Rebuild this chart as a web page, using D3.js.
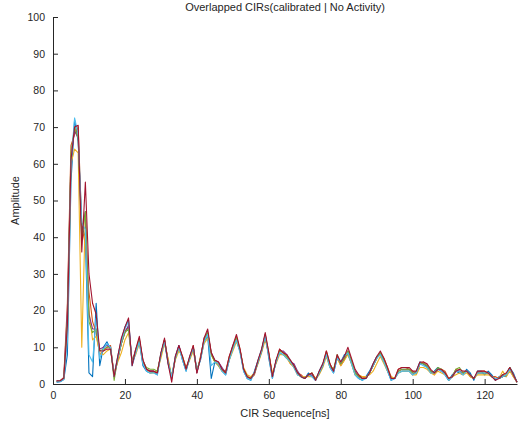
<!DOCTYPE html>
<html>
<head>
<meta charset="utf-8">
<script src="https://cdn.jsdelivr.net/npm/d3@7"></script>
<style>
  body { margin: 0; background: #fff; }
  text { font-family: "Liberation Sans", Arial, sans-serif; fill: #262626; }
</style>
</head>
<body>
<div id="chart"></div>
<script>
// CIR amplitude traces, one value per ns sample (t = 1..129)
const trBlue = [0.5,0.6,1.2,8,55,72,66,43,40,3, 2,22,5,10,11.5,9.5,2.5,7.5,12,15.5,
  17.5,5,8.5,11.5,5,3.5,3,3.2,2.5,8.5, 11.5,5.5,2,7.5,10.5,6.5,3.5,7.5,10,4,
  6.5,11.5,13,1.5,6,5,3.5,2.5,6.5,9.5, 12,9,3.5,1.5,1,3.5,6.5,9.5,13.5,7,
  1.5,6.5,8.5,8,7,6.5,4.5,2.5,2,1.5, 3,2,1,3.5,5.5,8,4.5,3,7,6,
  8,8,5.5,2.5,1.5,1,2,3.5,5.5,7.5, 8,6,3.5,1,1.5,3,3.5,3.5,3.5,2.5,
  3.5,6,5.5,4.5,3,3.5,4.5,3.5,2.5,1, 2.5,3.5,3,2.5,4,3,1,3.5,3.5,2.5,
  3.5,2.5,1,2,2.5,2,4.5,3,0.5];
const trOrange = [0.8,0.9,1.8,22,65,68,70,43,38,25, 17,14,8,9,10,10.5,2,6.5,11,14.5,
  15.5,6,9,12.5,6,4,3.5,3.5,3,8, 12,6.5,1.5,7,10,7.5,4.5,7,10.5,3,
  7.5,12,14,8.5,6,5.5,4,3.5,7.5,10, 13,9.5,4,2,1.5,2.5,6,9,13.5,8.5,
  2.5,6,9.5,8.5,7.5,5.5,5,3,2.5,1.5, 2.5,3,1.5,3,5,9,5.5,3.5,7.5,5,
  6.5,9,6.5,3,2,2,1.5,3,5,7, 8.5,7,4.5,2,1.5,4,4.5,4.5,4,3.5,
  3,5.5,6,5,3.5,2.5,4,4,3.5,1.5, 2,4,3.5,3,3.5,2,1.5,3,3.5,3.5,
  3,2,2,1.5,2,2.5,4,2,0.5];
const trYellow = [0.8,0.8,1.5,14,60,64,63,10,46,20, 12,13,8.5,8,9,9.5,3,6,8.5,12,
  14,6.5,8,11,6.5,4,3,3,3.5,7, 11,7,2,6.5,9,7.5,4,6.5,9,3.5,
  7,11,12.5,8,6,5,3.5,3,6.5,9, 11.5,9,4.5,2.5,2,3,5.5,8.5,12,8,
  3,5.5,8,8,7,5.5,4.5,2.5,2,2, 2,2,1.5,2.5,4.5,7.5,4.5,4,7,5,
  6.5,8,5.5,2.5,2.5,2,2,2.5,3.5,5.5, 7.5,5.5,3.5,2,1.5,3,3.5,3.5,3.5,2.5,
  2.5,4.5,4.5,4,3,2.5,3.5,3,2.5,1.5, 2,2.5,3,2.5,3,2,1.5,2.5,2.5,2.5,
  2.5,2,1.5,1.5,3.5,2,3.5,2,0.5];
const trPurple = [0.9,0.9,1.6,20,62,69,67,41,47,19, 15,15,9.5,10,10.5,10,2,7,11,14,
  16,6,9.5,12,6.5,4,3.5,3.5,3,8, 12,6,1.5,7,10.5,7,4,7,10,3,
  7,12.5,14,8.5,6.5,6,4.5,3,7,10.5, 12.5,9,4,2,1.5,3,6,9,13,8,
  2,6,9,9,8,6,5.5,3.5,2,1.5, 2.5,2.5,1,3,5,8.5,5,3.5,7.5,5.5,
  7,9,6,3.5,2,1.5,1.5,3,5,7, 8.5,6.5,4,1.5,1.5,3.5,4,4,4,3,
  3,5.5,5.5,5,3.5,3,4,3.5,3,1, 2,3.5,3.5,3,3.5,2.5,1.5,3,3,3,
  3,2,1.5,1.5,2,2.5,4.5,2.5,0.5];
const trGreen = [0.7,0.8,1.4,17,63,70,67,39,47,17, 14,15,9,9.5,10,10,1,7,11,14,
  15,6,9,12,6,4.5,4,4,3.5,8, 12,6,2,7,10,7,4,7,10,3.5,
  7,12,14,8,6,5.5,4,3,7,10, 12.5,9,4,2,1.5,3,6,9,13,8,
  2,6,9,8.5,7.5,6,5,3,2,1.5, 2.5,3,1,3,5,8.5,5,4,8,5.5,
  7,9,6,3,2,1.5,1.5,3,5,7, 8.5,6.5,4,1.5,1.5,3.5,4,4,4,3,
  3,5.5,5.5,5,3.5,3,4.5,4,3,1, 2,4,4.5,3,3.5,2.5,1.5,3,3,3,
  3,2,1.5,1.5,2,2.5,4.5,2.5,0.5];
const trCyan = [0.6,0.7,1.3,12,60,72.5,68,44,42,8, 6,18,7,9.5,11,10,2,7,11.5,15,
  17,5.5,8.5,11.5,5.5,3.5,3,3,2.5,8, 11.5,6,2,7,10,6.5,3.5,7,10,3.5,
  6.5,11.5,13.5,5,6,5.5,3.5,2.5,6.5,9.5, 12,8.5,3.5,1.5,1,3,6,9,13,7.5,
  1.5,6,8.5,8,7,6,4.5,2.5,2,1.5, 2.5,2,1,3,5,8,4.5,3,7,6,
  7.5,8.5,5.5,2.5,1.5,1,1.5,3,5,7, 8,6,3.5,1,1.5,3,3.5,3.5,3.5,2.5,
  3,5.5,5,4.5,3,3,4,3.5,2.5,1, 2,3.5,3.5,2.5,3.5,2.5,1.5,3,3,3,
  3,2,1.5,1.5,2,2.5,4,2.5,0.5];
const trRed = [0.8,0.9,1.6,16,61,70,70.5,36,55,30, 22,19,9,9,9.5,9.5,2,7.5,12.5,15.5,
  18,5,9.5,13,6.5,4,3.5,3.5,3,8.5, 12.5,5.5,0.5,7.5,10.5,7.5,4,7.5,10.5,3,
  7,12.5,15,8.5,6.5,6,4,3,7.5,10.5, 13.5,9.5,4,2,1.5,3,6.5,9.5,14,8.5,
  2,6.5,9.5,8.5,8,6.5,5,3,2,1.5, 2.5,3,1,3.5,5.5,9,5.5,3.5,8,6,
  7.5,10,7,4,2.5,1.5,1.5,3,5.5,7.5, 9,7,4.5,1.5,1.5,4,4.5,4.5,4.5,3.5,
  3.5,6,6,5.5,4,3,4,4,3,1.5, 2,3.5,4,3.5,3.5,2.5,1.5,3.5,3.5,3.5,
  3,2,1,1.5,2.5,3,4.5,2.5,0.5];

const traces = [trBlue, trOrange, trYellow, trPurple, trGreen, trCyan, trRed];
const colors = ["#0072BD", "#D95319", "#EDB120", "#7E2F8E", "#77AC30", "#4DBEEE", "#A2142F"];
const xTicks = [0, 20, 40, 60, 80, 100, 120];
const yTicks = [0, 10, 20, 30, 40, 50, 60, 70, 80, 90, 100];

const width = 523, height = 427;
const margin = { top: 17, right: 6, bottom: 43, left: 53 };
const plotW = width - margin.left - margin.right;
const plotH = height - margin.top - margin.bottom;

const svg = d3.select("#chart").append("svg").attr("width", width).attr("height", height);
const g = svg.append("g").attr("transform", `translate(${margin.left},${margin.top})`);

const x = d3.scaleLinear().domain([0, 129]).range([0, plotW]);
const y = d3.scaleLinear().domain([0, 100]).range([plotH, 0]);

const line = d3.line().x((d, i) => x(i + 1)).y(d => y(d));

g.append("g").selectAll("path")
  .data(traces)
  .join("path")
  .attr("d", line)
  .attr("fill", "none")
  .attr("stroke", (d, i) => colors[i])
  .attr("stroke-width", 1.1)
  .attr("stroke-linejoin", "round");

const xAxis = g.append("g").attr("transform", `translate(0,${plotH})`)
  .call(d3.axisBottom(x).tickValues(xTicks).tickSizeInner(-5).tickSizeOuter(0).tickPadding(8));
const yAxis = g.append("g")
  .call(d3.axisLeft(y).tickValues(yTicks).tickSizeInner(-5).tickSizeOuter(0).tickPadding(8));

[xAxis, yAxis].forEach(a => {
  a.select(".domain").attr("stroke", "#262626");
  a.selectAll(".tick line").attr("stroke", "#262626");
  a.selectAll(".tick text").attr("font-size", 10.5).attr("fill", "#4d4d4d")
    .attr("font-family", "Liberation Sans, Arial, sans-serif");
});

g.append("text").attr("x", plotW / 2).attr("y", plotH + 33)
  .attr("text-anchor", "middle").attr("font-size", 11).text("CIR Sequence[ns]");
g.append("text").attr("transform", "rotate(-90)").attr("x", -plotH / 2).attr("y", -34)
  .attr("text-anchor", "middle").attr("font-size", 11).text("Amplitude");
g.append("text").attr("x", plotW / 2).attr("y", -6)
  .attr("text-anchor", "middle").attr("font-size", 11).text("Overlapped CIRs(calibrated | No Activity)");
</script>
</body>
</html>
